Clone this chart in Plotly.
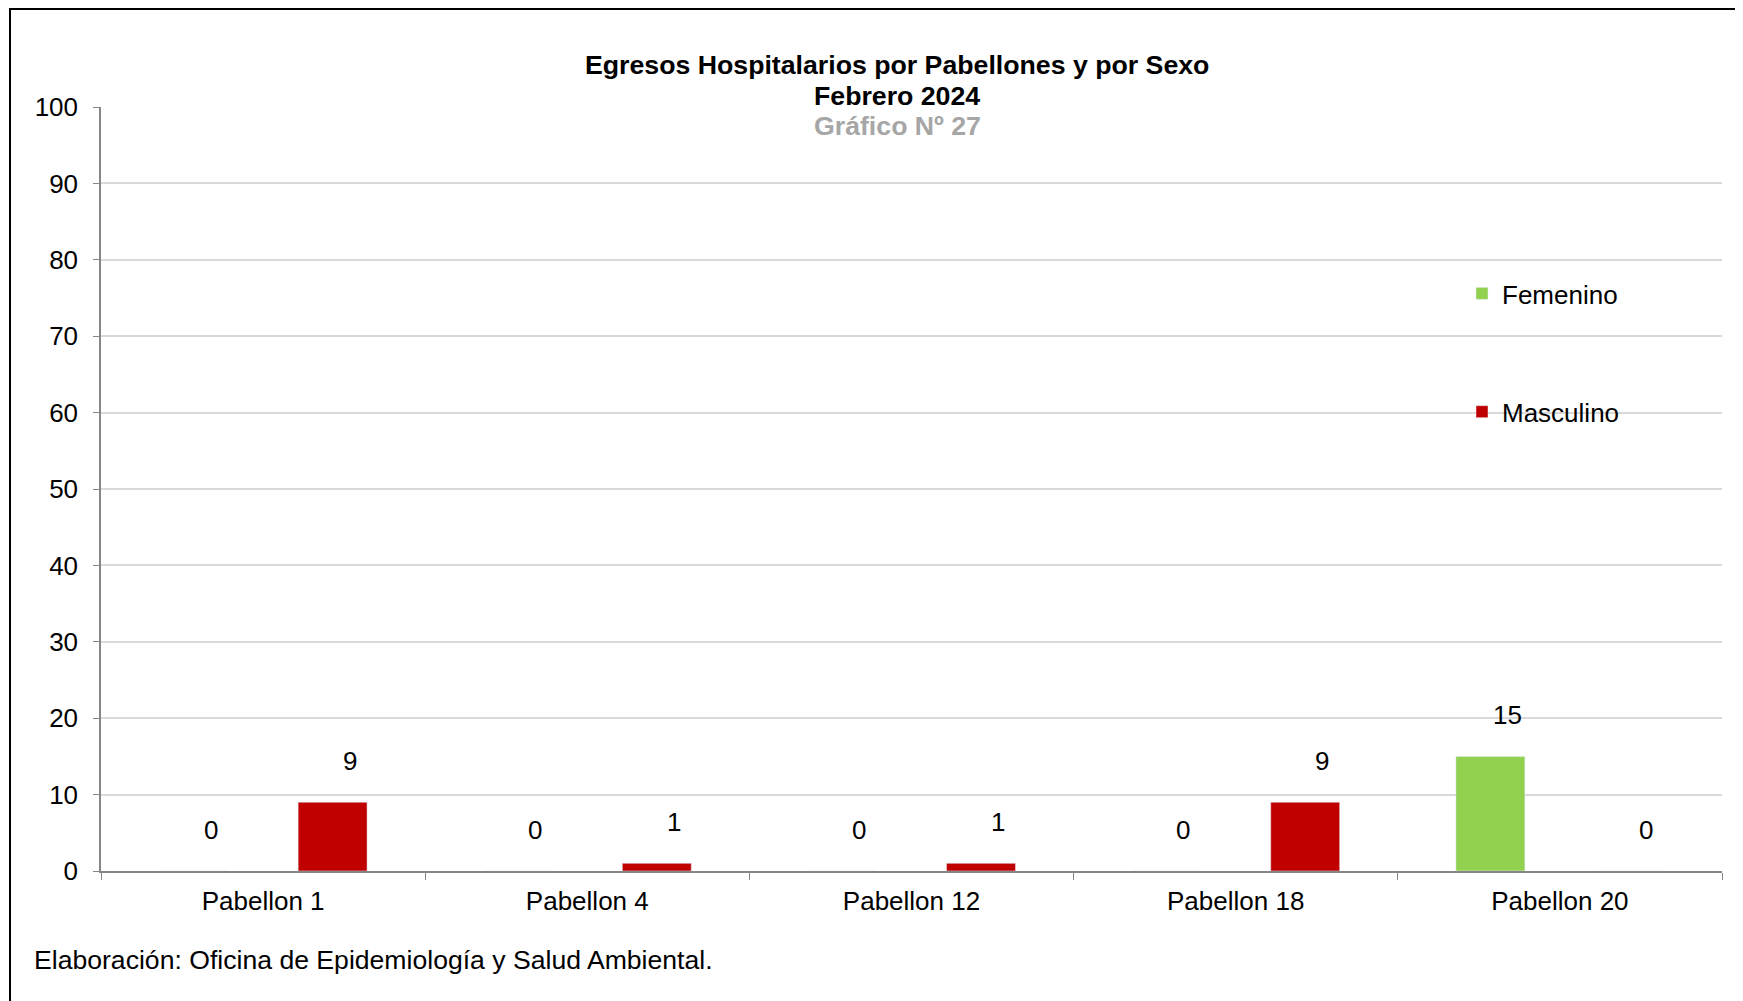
import plotly.graph_objects as go

categories = ["Pabellon 1", "Pabellon 4", "Pabellon 12", "Pabellon 18", "Pabellon 20"]
femenino = [0, 0, 0, 0, 15]
masculino = [9, 1, 1, 9, 0]
y_ticks = list(range(0, 101, 10))

OFF = 8  # page body margin
W, H = 1743 - OFF, 1001 - OFF
ML, MR, MT, MB = 101 - OFF, 21, 107 - OFF, 130
BARGAP, GROUPGAP = 0.1425, 0.504
FONT = "Liberation Sans, Arial, sans-serif"
GREEN, RED = "#92d050", "#c00000"

plot_w = W - ML - MR
plot_h = H - MT - MB
cat_w = plot_w / len(categories)
slot = cat_w * (1 - BARGAP) / 2
offset = slot / 2

def px_to_paper_x(px):
    return (px - OFF - ML) / plot_w

def px_to_paper_y(py):
    return (H - MB - (py - OFF)) / plot_h

fig = go.Figure()
fig.add_trace(go.Bar(name="Femenino", x=categories, y=femenino, marker_color=GREEN,
                     legendgroup="f", hoverinfo="x+y"))
fig.add_trace(go.Bar(name="Masculino", x=categories, y=masculino, marker_color=RED,
                     legendgroup="m", hoverinfo="x+y"))

annotations = []
for vals, sign in ((femenino, -1), (masculino, 1)):
    for c, v in zip(categories, vals):
        annotations.append(dict(x=c, y=v, xref="x", yref="y", text=str(v), showarrow=False,
                                xshift=sign * offset + 17, yshift=41, yanchor="middle",
                                font=dict(family=FONT, size=26, color="black")))

title_lines = [("<b>Egresos Hospitalarios por Pabellones y por Sexo</b>", "black", 65.0),
               ("<b>Febrero 2024</b>", "black", 96.2),
               ("<b>Gráfico Nº 27</b>", "#a6a6a6", 126.2)]
for txt, col, py in title_lines:
    annotations.append(dict(x=px_to_paper_x(897), y=px_to_paper_y(py), xref="paper", yref="paper",
                            text=txt, showarrow=False, xanchor="center", yanchor="middle",
                            font=dict(family=FONT, size=26.7, color=col)))

annotations.append(dict(x=px_to_paper_x(32), y=px_to_paper_y(960), xref="paper", yref="paper",
                        text="Elaboración: Oficina de Epidemiología y Salud Ambiental.",
                        showarrow=False, xanchor="left", yanchor="middle",
                        font=dict(family=FONT, size=26.6, color="black")))

frame = [
    dict(type="line", xref="paper", yref="paper",
         x0=px_to_paper_x(9), x1=px_to_paper_x(1745),
         y0=px_to_paper_y(9), y1=px_to_paper_y(9),
         line=dict(color="black", width=2), layer="above"),
    dict(type="line", xref="paper", yref="paper",
         x0=px_to_paper_x(10), x1=px_to_paper_x(10),
         y0=px_to_paper_y(8), y1=px_to_paper_y(1010),
         line=dict(color="black", width=2), layer="above"),
    dict(type="line", xref="paper", yref="paper",
         x0=px_to_paper_x(1742), x1=px_to_paper_x(1742),
         y0=px_to_paper_y(10), y1=px_to_paper_y(1010),
         line=dict(color="#dcdcdc", width=1.5), layer="above"),
]

fig.update_layout(
    width=W, height=H,
    margin=dict(l=ML, r=MR, t=MT, b=MB, autoexpand=False),
    paper_bgcolor="white", plot_bgcolor="white",
    barmode="group", bargap=BARGAP, bargroupgap=GROUPGAP,
    font=dict(family=FONT, size=26, color="black"),
    showlegend=True,
    legend=dict(x=px_to_paper_x(1462), y=px_to_paper_y(270), xanchor="left", yanchor="top",
                bgcolor="rgba(0,0,0,0)", traceorder="grouped", tracegroupgap=81.5,
                font=dict(family=FONT, size=26, color="black")),
    annotations=annotations,
    shapes=frame,
)
fig.update_xaxes(showline=True, linecolor="#868686", linewidth=1.5, showgrid=False,
                 ticks="outside", tickson="boundaries", ticklen=7, tickcolor="#868686",
                 tickfont=dict(family=FONT, size=26, color="black"), ticklabelstandoff=6)
fig.update_yaxes(range=[0, 100], tickvals=y_ticks, showline=True, linecolor="#868686",
                 linewidth=1.5, showgrid=True, gridcolor="#d9d9d9", gridwidth=1.5,
                 ticks="outside", ticklen=6, tickcolor="#868686", zeroline=False,
                 tickfont=dict(family=FONT, size=26, color="black"), ticklabelstandoff=10)

fig.write_html("out.html")
